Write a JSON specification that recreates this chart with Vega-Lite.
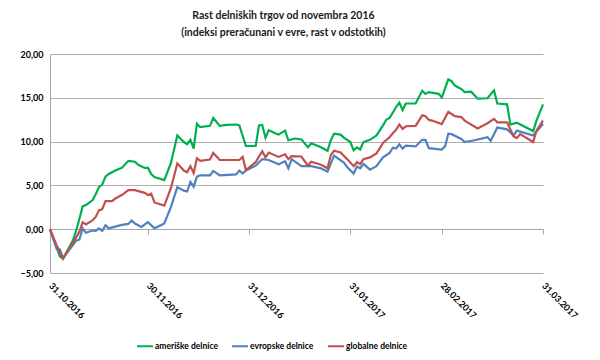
{
  "$schema": "https://vega.github.io/schema/vega-lite/v6.json",
  "width": 493,
  "height": 219,
  "autosize": "none",
  "padding": {"left": 50, "top": 54, "right": 57, "bottom": 87},
  "background": "white",
  "config": {"view": {"stroke": null}, "font": "Lato"},
  "title": {
    "text": ["Rast delniških trgov od novembra 2016", "(indeksi preračunani  v evre, rast v odstotkih)"],
    "fontSize": 10.5,
    "fontWeight": "bold",
    "font": "Lato",
    "color": "#1a1a1a",
    "dx": -13,
    "offset": 12,
    "lineHeight": 17
  },
  "datasets": {
    "am": [
      {"d": "2016-10-31", "v": 0}, {"d": "2016-11-03", "v": -3.1}, {"d": "2016-11-04", "v": -3.35}, {"d": "2016-11-07", "v": -1.3},
      {"d": "2016-11-08", "v": -0.2}, {"d": "2016-11-09", "v": 1.2}, {"d": "2016-11-10", "v": 2.6}, {"d": "2016-11-11", "v": 2.75},
      {"d": "2016-11-13", "v": 3.3}, {"d": "2016-11-14", "v": 4.0}, {"d": "2016-11-15", "v": 4.8}, {"d": "2016-11-16", "v": 5.1},
      {"d": "2016-11-17", "v": 6.0}, {"d": "2016-11-18", "v": 6.3}, {"d": "2016-11-20", "v": 6.7}, {"d": "2016-11-22", "v": 7.0},
      {"d": "2016-11-24", "v": 7.8}, {"d": "2016-11-26", "v": 7.7}, {"d": "2016-11-27", "v": 7.35}, {"d": "2016-11-29", "v": 7.0},
      {"d": "2016-11-30", "v": 7.0}, {"d": "2016-12-01", "v": 6.3}, {"d": "2016-12-02", "v": 5.95}, {"d": "2016-12-05", "v": 5.6},
      {"d": "2016-12-07", "v": 7.5}, {"d": "2016-12-09", "v": 10.7}, {"d": "2016-12-11", "v": 9.95}, {"d": "2016-12-12", "v": 9.7},
      {"d": "2016-12-13", "v": 10.2}, {"d": "2016-12-14", "v": 9.2}, {"d": "2016-12-15", "v": 12.05}, {"d": "2016-12-16", "v": 11.65},
      {"d": "2016-12-19", "v": 11.8}, {"d": "2016-12-20", "v": 12.7}, {"d": "2016-12-22", "v": 11.8}, {"d": "2016-12-24", "v": 11.9},
      {"d": "2016-12-27", "v": 11.95}, {"d": "2016-12-28", "v": 11.85}, {"d": "2016-12-30", "v": 9.5}, {"d": "2017-01-02", "v": 9.5},
      {"d": "2017-01-03", "v": 11.85}, {"d": "2017-01-04", "v": 11.9}, {"d": "2017-01-05", "v": 10.45}, {"d": "2017-01-06", "v": 11.3},
      {"d": "2017-01-08", "v": 10.95}, {"d": "2017-01-09", "v": 10.8}, {"d": "2017-01-11", "v": 11.25}, {"d": "2017-01-12", "v": 10.15},
      {"d": "2017-01-14", "v": 10.35}, {"d": "2017-01-16", "v": 10.25}, {"d": "2017-01-18", "v": 9.35}, {"d": "2017-01-19", "v": 9.8},
      {"d": "2017-01-22", "v": 9.35}, {"d": "2017-01-24", "v": 8.95}, {"d": "2017-01-25", "v": 10.15}, {"d": "2017-01-26", "v": 10.9},
      {"d": "2017-01-28", "v": 10.8}, {"d": "2017-01-29", "v": 10.45}, {"d": "2017-01-31", "v": 9.95}, {"d": "2017-02-01", "v": 9.0},
      {"d": "2017-02-02", "v": 9.35}, {"d": "2017-02-03", "v": 9.1}, {"d": "2017-02-04", "v": 9.95}, {"d": "2017-02-06", "v": 10.2},
      {"d": "2017-02-08", "v": 10.7}, {"d": "2017-02-10", "v": 11.85}, {"d": "2017-02-11", "v": 12.5}, {"d": "2017-02-12", "v": 12.7},
      {"d": "2017-02-13", "v": 13.3}, {"d": "2017-02-14", "v": 13.95}, {"d": "2017-02-15", "v": 14.45}, {"d": "2017-02-16", "v": 13.6},
      {"d": "2017-02-17", "v": 14.35}, {"d": "2017-02-20", "v": 14.35}, {"d": "2017-02-22", "v": 15.8}, {"d": "2017-02-23", "v": 15.45},
      {"d": "2017-02-24", "v": 15.65}, {"d": "2017-02-27", "v": 15.45}, {"d": "2017-02-28", "v": 15.05}, {"d": "2017-03-02", "v": 17.1},
      {"d": "2017-03-03", "v": 16.9}, {"d": "2017-03-04", "v": 16.4}, {"d": "2017-03-06", "v": 16.0}, {"d": "2017-03-07", "v": 15.65},
      {"d": "2017-03-09", "v": 15.7}, {"d": "2017-03-11", "v": 14.9}, {"d": "2017-03-14", "v": 14.95}, {"d": "2017-03-16", "v": 15.85},
      {"d": "2017-03-17", "v": 14.35}, {"d": "2017-03-20", "v": 14.25}, {"d": "2017-03-21", "v": 11.95}, {"d": "2017-03-23", "v": 12.15},
      {"d": "2017-03-28", "v": 11.2}, {"d": "2017-03-29", "v": 12.4}, {"d": "2017-03-31", "v": 14.25}
    ],
    "ev": [
      {"d": "2016-10-31", "v": 0}, {"d": "2016-11-02", "v": -2.2}, {"d": "2016-11-03", "v": -2.3}, {"d": "2016-11-04", "v": -3.3},
      {"d": "2016-11-07", "v": -1.8}, {"d": "2016-11-08", "v": -1.3}, {"d": "2016-11-09", "v": -1.2}, {"d": "2016-11-10", "v": 0.1},
      {"d": "2016-11-11", "v": -0.4}, {"d": "2016-11-13", "v": -0.15}, {"d": "2016-11-14", "v": -0.2}, {"d": "2016-11-15", "v": 0.1},
      {"d": "2016-11-16", "v": -0.2}, {"d": "2016-11-17", "v": 0.45}, {"d": "2016-11-18", "v": 0.1}, {"d": "2016-11-20", "v": 0.3},
      {"d": "2016-11-22", "v": 0.5}, {"d": "2016-11-24", "v": 0.6}, {"d": "2016-11-25", "v": 1.0}, {"d": "2016-11-26", "v": 0.65},
      {"d": "2016-11-28", "v": 0.25}, {"d": "2016-11-30", "v": 0.8}, {"d": "2016-12-02", "v": 0.1}, {"d": "2016-12-05", "v": 0.65},
      {"d": "2016-12-07", "v": 2.5}, {"d": "2016-12-09", "v": 4.8}, {"d": "2016-12-11", "v": 4.4}, {"d": "2016-12-12", "v": 4.3},
      {"d": "2016-12-13", "v": 5.4}, {"d": "2016-12-14", "v": 4.85}, {"d": "2016-12-15", "v": 6.0}, {"d": "2016-12-16", "v": 6.15},
      {"d": "2016-12-19", "v": 6.15}, {"d": "2016-12-20", "v": 6.65}, {"d": "2016-12-22", "v": 6.15}, {"d": "2016-12-27", "v": 6.25},
      {"d": "2016-12-28", "v": 6.7}, {"d": "2016-12-29", "v": 6.35}, {"d": "2016-12-30", "v": 6.7}, {"d": "2017-01-02", "v": 7.25},
      {"d": "2017-01-04", "v": 8.0}, {"d": "2017-01-06", "v": 7.9}, {"d": "2017-01-09", "v": 7.4}, {"d": "2017-01-11", "v": 7.75},
      {"d": "2017-01-12", "v": 6.95}, {"d": "2017-01-13", "v": 8.0}, {"d": "2017-01-16", "v": 7.2}, {"d": "2017-01-19", "v": 7.2},
      {"d": "2017-01-22", "v": 6.95}, {"d": "2017-01-24", "v": 6.55}, {"d": "2017-01-26", "v": 8.4}, {"d": "2017-01-29", "v": 7.6},
      {"d": "2017-01-30", "v": 7.1}, {"d": "2017-02-01", "v": 6.35}, {"d": "2017-02-02", "v": 7.15}, {"d": "2017-02-03", "v": 6.95},
      {"d": "2017-02-04", "v": 7.45}, {"d": "2017-02-06", "v": 6.8}, {"d": "2017-02-08", "v": 7.2}, {"d": "2017-02-10", "v": 8.2},
      {"d": "2017-02-12", "v": 8.7}, {"d": "2017-02-13", "v": 9.3}, {"d": "2017-02-14", "v": 9.2}, {"d": "2017-02-15", "v": 9.7},
      {"d": "2017-02-16", "v": 9.2}, {"d": "2017-02-17", "v": 9.55}, {"d": "2017-02-20", "v": 9.45}, {"d": "2017-02-22", "v": 10.2},
      {"d": "2017-02-23", "v": 10.2}, {"d": "2017-02-24", "v": 9.25}, {"d": "2017-02-28", "v": 9.1}, {"d": "2017-03-01", "v": 9.45},
      {"d": "2017-03-02", "v": 10.9}, {"d": "2017-03-03", "v": 10.85}, {"d": "2017-03-06", "v": 10.3}, {"d": "2017-03-07", "v": 9.95},
      {"d": "2017-03-10", "v": 10.15}, {"d": "2017-03-14", "v": 10.5}, {"d": "2017-03-15", "v": 10.1}, {"d": "2017-03-17", "v": 11.6},
      {"d": "2017-03-20", "v": 11.4}, {"d": "2017-03-22", "v": 10.7}, {"d": "2017-03-23", "v": 11.25}, {"d": "2017-03-28", "v": 10.7},
      {"d": "2017-03-31", "v": 12.0}
    ],
    "gl": [
      {"d": "2016-10-31", "v": 0}, {"d": "2016-11-02", "v": -1.8}, {"d": "2016-11-03", "v": -2.6}, {"d": "2016-11-04", "v": -3.35},
      {"d": "2016-11-07", "v": -1.6}, {"d": "2016-11-09", "v": -0.3}, {"d": "2016-11-10", "v": 0.8}, {"d": "2016-11-11", "v": 0.55},
      {"d": "2016-11-13", "v": 1.0}, {"d": "2016-11-14", "v": 1.4}, {"d": "2016-11-15", "v": 2.15}, {"d": "2016-11-16", "v": 2.3},
      {"d": "2016-11-17", "v": 3.2}, {"d": "2016-11-19", "v": 3.2}, {"d": "2016-11-20", "v": 3.5}, {"d": "2016-11-22", "v": 3.9},
      {"d": "2016-11-24", "v": 4.45}, {"d": "2016-11-26", "v": 4.45}, {"d": "2016-11-29", "v": 4.15}, {"d": "2016-11-30", "v": 3.9},
      {"d": "2016-12-01", "v": 4.05}, {"d": "2016-12-02", "v": 3.05}, {"d": "2016-12-05", "v": 2.7}, {"d": "2016-12-07", "v": 4.65},
      {"d": "2016-12-09", "v": 7.5}, {"d": "2016-12-11", "v": 6.7}, {"d": "2016-12-12", "v": 6.5}, {"d": "2016-12-13", "v": 7.2},
      {"d": "2016-12-14", "v": 6.4}, {"d": "2016-12-15", "v": 8.1}, {"d": "2016-12-16", "v": 7.8}, {"d": "2016-12-19", "v": 7.95},
      {"d": "2016-12-20", "v": 8.7}, {"d": "2016-12-22", "v": 7.9}, {"d": "2016-12-28", "v": 7.9}, {"d": "2016-12-29", "v": 8.25},
      {"d": "2016-12-30", "v": 6.75}, {"d": "2017-01-02", "v": 7.65}, {"d": "2017-01-04", "v": 8.9}, {"d": "2017-01-05", "v": 8.2},
      {"d": "2017-01-06", "v": 8.75}, {"d": "2017-01-09", "v": 8.25}, {"d": "2017-01-11", "v": 8.55}, {"d": "2017-01-12", "v": 8.0},
      {"d": "2017-01-13", "v": 8.35}, {"d": "2017-01-16", "v": 8.3}, {"d": "2017-01-18", "v": 7.25}, {"d": "2017-01-19", "v": 7.7},
      {"d": "2017-01-22", "v": 7.35}, {"d": "2017-01-24", "v": 6.95}, {"d": "2017-01-25", "v": 8.45}, {"d": "2017-01-26", "v": 8.95},
      {"d": "2017-01-28", "v": 8.75}, {"d": "2017-01-30", "v": 8.0}, {"d": "2017-02-01", "v": 7.2}, {"d": "2017-02-02", "v": 7.65},
      {"d": "2017-02-03", "v": 7.45}, {"d": "2017-02-04", "v": 8.0}, {"d": "2017-02-06", "v": 8.2}, {"d": "2017-02-08", "v": 8.65},
      {"d": "2017-02-10", "v": 9.85}, {"d": "2017-02-12", "v": 10.5}, {"d": "2017-02-13", "v": 10.95}, {"d": "2017-02-14", "v": 11.35},
      {"d": "2017-02-15", "v": 11.95}, {"d": "2017-02-16", "v": 11.45}, {"d": "2017-02-17", "v": 11.75}, {"d": "2017-02-20", "v": 11.8},
      {"d": "2017-02-22", "v": 13.0}, {"d": "2017-02-23", "v": 12.9}, {"d": "2017-02-24", "v": 12.5}, {"d": "2017-02-25", "v": 12.4},
      {"d": "2017-02-28", "v": 12.0}, {"d": "2017-03-02", "v": 13.4}, {"d": "2017-03-04", "v": 12.9}, {"d": "2017-03-06", "v": 12.8},
      {"d": "2017-03-07", "v": 12.4}, {"d": "2017-03-11", "v": 11.5}, {"d": "2017-03-14", "v": 12.1}, {"d": "2017-03-16", "v": 12.6},
      {"d": "2017-03-17", "v": 12.2}, {"d": "2017-03-20", "v": 12.2}, {"d": "2017-03-22", "v": 10.6}, {"d": "2017-03-23", "v": 10.4},
      {"d": "2017-03-24", "v": 10.85}, {"d": "2017-03-28", "v": 9.95}, {"d": "2017-03-29", "v": 11.25}, {"d": "2017-03-31", "v": 12.4}
    ]
  },
  "encoding": {
    "x": {
      "field": "d",
      "type": "temporal",
      "scale": {
        "type": "utc",
        "domain": [
          {"year": 2016, "month": 10, "date": 31, "utc": true},
          {"year": 2017, "month": 3, "date": 31, "utc": true}
        ]
      },
      "axis": {
        "values": [
          {"year": 2016, "month": 10, "date": 31, "utc": true},
          {"year": 2016, "month": 11, "date": 30, "utc": true},
          {"year": 2016, "month": 12, "date": 31, "utc": true},
          {"year": 2017, "month": 1, "date": 31, "utc": true},
          {"year": 2017, "month": 2, "date": 28, "utc": true},
          {"year": 2017, "month": 3, "date": 31, "utc": true}
        ],
        "labelExpr": "utcFormat(datum.value, '%d.%m.%Y')",
        "title": null,
        "grid": false,
        "offset": -44,
        "domainColor": "#a6a6a6",
        "tickColor": "#a6a6a6",
        "tickSize": 5,
        "labelAngle": 45,
        "labelAlign": "left",
        "labelBaseline": "middle",
        "labelPadding": 50,
        "labelFontSize": 9,
        "labelFontWeight": "bold",
        "labelColor": "#000000",
        "labelFont": "Lato",
        "labelFlush": false,
        "labelOverlap": false
      }
    },
    "y": {
      "field": "v",
      "type": "quantitative",
      "scale": {"domain": [-5, 20], "nice": false, "zero": false},
      "axis": {
        "values": [-5, 0, 5, 10, 15, 20],
        "labelExpr": "replace(format(datum.value, '.2f'), '.', ',')",
        "title": null,
        "grid": true,
        "gridColor": "#b0b0b0",
        "domainColor": "#a6a6a6",
        "ticks": false,
        "labelPadding": 7,
        "labelFontSize": 9,
        "labelFontWeight": "bold",
        "labelColor": "#000000",
        "labelFont": "Lato"
      }
    },
    "color": {
      "field": "s",
      "type": "nominal",
      "scale": {
        "domain": ["ameriške delnice", "evropske delnice", "globalne delnice"],
        "range": ["#00B050", "#4F81BD", "#C0504D"]
      },
      "legend": {
        "orient": "none",
        "legendX": 86,
        "legendY": 283,
        "direction": "horizontal",
        "title": null,
        "symbolType": "stroke",
        "symbolStrokeWidth": 2,
        "symbolSize": 256,
        "labelFontSize": 8.5,
        "labelFontWeight": "bold",
        "labelColor": "#000000",
        "labelFont": "Lato",
        "labelOffset": 1,
        "columnPadding": 10
      }
    }
  },
  "layer": [
    {"data": {"name": "am"}, "transform": [{"calculate": "'ameriške delnice'", "as": "s"}], "mark": {"type": "line", "strokeWidth": 2.2}},
    {"data": {"name": "ev"}, "transform": [{"calculate": "'evropske delnice'", "as": "s"}], "mark": {"type": "line", "strokeWidth": 2.2}},
    {"data": {"name": "gl"}, "transform": [{"calculate": "'globalne delnice'", "as": "s"}], "mark": {"type": "line", "strokeWidth": 2.2}}
  ]
}
